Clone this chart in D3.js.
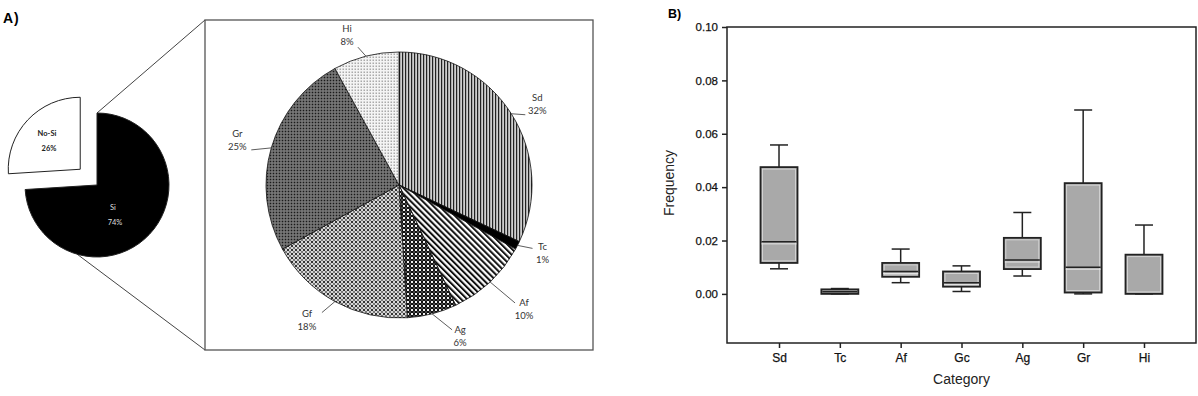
<!DOCTYPE html>
<html>
<head>
<meta charset="utf-8">
<script src="https://cdn.jsdelivr.net/npm/d3@7"></script>
<style>
  body { margin: 0; background: #fff; }
  svg { display: block; }
</style>
</head>
<body>
<script>
// Chart data
const overviewNames = ["Si", "No-Si"];
const overviewPct = [74, 26];

const pieNames = ["Sd", "Tc", "Af", "Ag", "Gf", "Gr", "Hi"];
const piePct = [32, 1, 10, 6, 18, 25, 8];

const boxCats = ["Sd", "Tc", "Af", "Gc", "Ag", "Gr", "Hi"];
const whiskerLow = [0.0094, 0.0000, 0.0042, 0.0009, 0.0067, 0.0000, 0.0000];
const q1 = [0.0116, 0.0000, 0.0064, 0.0027, 0.0093, 0.0005, 0.0000];
const median = [0.0195, 0.0008, 0.0084, 0.0042, 0.0127, 0.0100, 0.0000];
const q3 = [0.0475, 0.0017, 0.0116, 0.0084, 0.0210, 0.0415, 0.0147];
const whiskerHigh = [0.0558, 0.0020, 0.0168, 0.0105, 0.0305, 0.0689, 0.0258];
const yTicks = [0.00, 0.02, 0.04, 0.06, 0.08, 0.10];

const width = 1198;
const height = 396;

const svg = d3.select("body").append("svg")
  .attr("width", width)
  .attr("height", height);

const defs = svg.append("defs");

// Fill patterns for the pie slices
function makePattern(id, w, h, build, transform) {
  const p = defs.append("pattern")
    .attr("id", id)
    .attr("patternUnits", "userSpaceOnUse")
    .attr("width", w)
    .attr("height", h);
  if (transform) p.attr("patternTransform", transform);
  build(p);
}

makePattern("pSd", 3, 3, p => {
  p.append("rect").attr("width", 3).attr("height", 3).attr("fill", "#cfcfcf");
  p.append("rect").attr("width", 1.2).attr("height", 3).attr("fill", "#222");
});
makePattern("pAf", 4.2, 4.2, p => {
  p.append("rect").attr("width", 4.2).attr("height", 4.2).attr("fill", "#fff");
  p.append("rect").attr("width", 2).attr("height", 4.2).attr("fill", "#111");
}, "rotate(-45)");
makePattern("pAg", 4, 4, p => {
  p.append("rect").attr("width", 4).attr("height", 4).attr("fill", "#111");
  p.append("rect").attr("x", 0).attr("y", 0).attr("width", 2).attr("height", 2).attr("fill", "#eee");
  p.append("rect").attr("x", 2).attr("y", 2).attr("width", 2).attr("height", 2).attr("fill", "#444");
});
makePattern("pGf", 4, 4, p => {
  p.append("rect").attr("width", 4).attr("height", 4).attr("fill", "#d6d6d6");
  p.append("rect").attr("x", 0).attr("y", 0).attr("width", 2).attr("height", 2).attr("fill", "#333");
  p.append("rect").attr("x", 2).attr("y", 2).attr("width", 2).attr("height", 2).attr("fill", "#777");
});
makePattern("pGr", 3, 3, p => {
  p.append("rect").attr("width", 3).attr("height", 3).attr("fill", "#606060");
  p.append("rect").attr("x", 0).attr("y", 0).attr("width", 1).attr("height", 1).attr("fill", "#1a1a1a");
  p.append("rect").attr("x", 1.5).attr("y", 1.5).attr("width", 1).attr("height", 1).attr("fill", "#b0b0b0");
});
makePattern("pHi", 3, 3, p => {
  p.append("rect").attr("width", 3).attr("height", 3).attr("fill", "#f4f4f4");
  p.append("rect").attr("x", 0.5).attr("y", 0.5).attr("width", 1.5).attr("height", 1.5).attr("fill", "#aaa");
});

const sliceFill = {
  Sd: "url(#pSd)", Tc: "#000", Af: "url(#pAf)", Ag: "url(#pAg)",
  Gf: "url(#pGf)", Gr: "url(#pGr)", Hi: "url(#pHi)"
};

const labelFont = "Lato, 'Open Sans', sans-serif";

// ---------- Panel A ----------
svg.append("text")
  .attr("x", 3).attr("y", 23)
  .attr("font-family", "'Liberation Sans', Arial, sans-serif")
  .attr("font-weight", "bold")
  .attr("font-size", 14)
  .attr("letter-spacing", 1)
  .text("A)");

// small overview pie
const smallCx = 97, smallCy = 185, smallR = 72;
const smallPie = d3.pie().sort(null)(overviewPct);
const smallArc = d3.arc().innerRadius(0).outerRadius(smallR);

// big exploded box
const boxX0 = 205, boxY0 = 20, boxX1 = 593, boxY1 = 350;

// connector lines (drawn first, below pies)
const lowAngle = 196 * Math.PI / 180;
svg.append("line")
  .attr("x1", smallCx).attr("y1", smallCy - smallR)
  .attr("x2", boxX0).attr("y2", boxY0)
  .attr("stroke", "#444").attr("stroke-width", 1);
svg.append("line")
  .attr("x1", smallCx + smallR * Math.sin(lowAngle)).attr("y1", smallCy - smallR * Math.cos(lowAngle))
  .attr("x2", boxX0).attr("y2", boxY1)
  .attr("stroke", "#444").attr("stroke-width", 1);

const small = svg.append("g").attr("transform", `translate(${smallCx},${smallCy})`);
small.selectAll("path")
  .data(smallPie)
  .enter().append("path")
  .attr("d", smallArc)
  .attr("transform", (d, i) => {
    if (i === 0) return null;
    const [x, y] = smallArc.centroid(d);
    const len = Math.hypot(x, y);
    return `translate(${x / len * 23},${y / len * 23})`;
  })
  .attr("fill", (d, i) => i === 0 ? "#000" : "#fff")
  .attr("stroke", "#222")
  .attr("stroke-width", 1);

const smallLabelPos = [[16, 29], [-50, -45]];
small.selectAll("text.sl")
  .data(smallPie)
  .enter().append("text")
  .attr("class", "sl")
  .attr("text-anchor", "middle")
  .attr("font-family", labelFont)
  .attr("font-size", 7.5)
  .attr("fill", (d, i) => i === 0 ? "#ddd" : "#222")
  .attr("font-weight", (d, i) => i === 0 ? "normal" : "bold")
  .each(function(d, i) {
    const t = d3.select(this);
    const [px, py] = smallLabelPos[i];
    t.append("tspan").attr("x", px).attr("y", py - 4).text(overviewNames[i]);
    t.append("tspan").attr("x", px + 2).attr("y", py + 11).text(overviewPct[i] + "%");
  });

svg.append("rect")
  .attr("x", boxX0).attr("y", boxY0)
  .attr("width", boxX1 - boxX0).attr("height", boxY1 - boxY0)
  .attr("fill", "none")
  .attr("stroke", "#555")
  .attr("stroke-width", 1.3);

// main pie
const bigCx = 399, bigCy = 185, bigR = 133;
const bigPie = d3.pie().sort(null)(piePct);
const bigArc = d3.arc().innerRadius(0).outerRadius(bigR);

const big = svg.append("g").attr("transform", `translate(${bigCx},${bigCy})`);
big.selectAll("path")
  .data(bigPie)
  .enter().append("path")
  .attr("d", bigArc)
  .attr("fill", (d, i) => sliceFill[pieNames[i]])
  .attr("stroke", "#111")
  .attr("stroke-width", 0.8);

// label offsets relative to the slice edge (text block centre, leader end)
const labelOffset = {
  Sd: [[26, -10], [14, 1]],
  Tc: [[25, 8], [15, 3]],
  Af: [[34, 27], [25, 21]],
  Ag: [[28, 22], [20, 16]],
  Gf: [[-28, 18], [-13, 11]],
  Gr: [[-34, -8], [-20, 2]],
  Hi: [[-19, -21], [-8, -9]]
};

bigPie.forEach((d, i) => {
  const name = pieNames[i];
  const mid = (d.startAngle + d.endAngle) / 2;
  const ex = bigR * Math.sin(mid), ey = -bigR * Math.cos(mid);
  const [lab, lead] = labelOffset[name];
  big.append("line")
    .attr("x1", ex).attr("y1", ey)
    .attr("x2", ex + lead[0]).attr("y2", ey + lead[1])
    .attr("stroke", "#333").attr("stroke-width", 0.8);
  const t = big.append("text")
    .attr("text-anchor", "middle")
    .attr("font-family", labelFont)
    .attr("font-size", 9.5)
    .attr("fill", "#333");
  t.append("tspan").attr("x", ex + lab[0]).attr("y", ey + lab[1] - 3).text(name);
  t.append("tspan").attr("x", ex + lab[0]).attr("y", ey + lab[1] + 10).text(piePct[i] + "%");
});

// ---------- Panel B ----------
const plotX0 = 727, plotX1 = 1196, plotY0 = 27, plotY1 = 343;
const axisFont = "'Liberation Sans', Arial, sans-serif";

svg.append("text")
  .attr("x", 668).attr("y", 18)
  .attr("font-family", axisFont)
  .attr("font-weight", "bold")
  .attr("font-size", 12.5)
  .text("B)");

const y = d3.scaleLinear().domain([-0.0184, 0.10]).range([plotY1, plotY0]);
const x = d3.scalePoint().domain(boxCats).range([plotX0, plotX1]).padding(0.855);

const yAxis = svg.append("g")
  .attr("transform", `translate(${plotX0},0)`)
  .call(d3.axisLeft(y).tickValues(yTicks).tickFormat(d3.format(".2f")).tickSize(5).tickPadding(4));
const xAxis = svg.append("g")
  .attr("transform", `translate(0,${plotY1})`)
  .call(d3.axisBottom(x).tickSize(5).tickPadding(5));

[yAxis, xAxis].forEach(a => {
  a.select(".domain").remove();
  a.selectAll("line").attr("stroke", "#222").attr("stroke-width", 1.5);
  a.selectAll("text")
    .attr("font-family", axisFont)
    .attr("font-size", 11.5)
    .attr("fill", "#111")
    .attr("stroke", "#111")
    .attr("stroke-width", 0.25);
});
xAxis.selectAll("text").attr("font-size", 12);

svg.append("rect")
  .attr("x", plotX0).attr("y", plotY0)
  .attr("width", plotX1 - plotX0).attr("height", plotY1 - plotY0)
  .attr("fill", "none")
  .attr("stroke", "#222")
  .attr("stroke-width", 1.5);

svg.append("text")
  .attr("transform", `translate(674,${(plotY0 + plotY1) / 2 - 2}) rotate(-90)`)
  .attr("text-anchor", "middle")
  .attr("font-family", axisFont)
  .attr("font-size", 14)
  .attr("fill", "#222")
  .text("Frequency");

svg.append("text")
  .attr("x", (plotX0 + plotX1) / 2)
  .attr("y", 384)
  .attr("text-anchor", "middle")
  .attr("font-family", axisFont)
  .attr("font-size", 14)
  .attr("fill", "#222")
  .text("Category");

const boxW = 37, capW = 18;
const boxes = svg.append("g").selectAll("g")
  .data(boxCats.map((c, i) => ({
    cat: c, lo: whiskerLow[i], q1: q1[i], med: median[i], q3: q3[i], hi: whiskerHigh[i]
  })))
  .enter().append("g")
  .attr("transform", d => `translate(${x(d.cat)},0)`);

boxes.append("line")
  .attr("y1", d => y(d.hi)).attr("y2", d => y(d.q3))
  .attr("stroke", "#222").attr("stroke-width", 1.5);
boxes.append("line")
  .attr("y1", d => y(d.q1)).attr("y2", d => y(d.lo))
  .attr("stroke", "#222").attr("stroke-width", 1.5);
boxes.append("line")
  .attr("x1", -capW / 2).attr("x2", capW / 2)
  .attr("y1", d => y(d.hi)).attr("y2", d => y(d.hi))
  .attr("stroke", "#222").attr("stroke-width", 1.5);
boxes.append("line")
  .attr("x1", -capW / 2).attr("x2", capW / 2)
  .attr("y1", d => y(d.lo)).attr("y2", d => y(d.lo))
  .attr("stroke", "#222").attr("stroke-width", 1.5);

boxes.append("rect")
  .attr("x", -boxW / 2).attr("width", boxW)
  .attr("y", d => y(d.q3)).attr("height", d => y(d.q1) - y(d.q3))
  .attr("fill", "#a9a9a9")
  .attr("stroke", "#222").attr("stroke-width", 1.8);
boxes.filter(d => y(d.q1) - y(d.q3) > 6).append("rect")
  .attr("x", -boxW / 2 + 2).attr("width", boxW - 4)
  .attr("y", d => y(d.q3) + 2).attr("height", d => y(d.q1) - y(d.q3) - 4)
  .attr("fill", "none")
  .attr("stroke", "#dcdcdc").attr("stroke-width", 0.8);
boxes.filter(d => d.med > d.q1).append("line")
  .attr("x1", -boxW / 2 + 1).attr("x2", boxW / 2 - 1)
  .attr("y1", d => y(d.med)).attr("y2", d => y(d.med))
  .attr("stroke", "#222").attr("stroke-width", 1.5);
boxes.filter(d => d.med > d.q1 && y(d.q1) - y(d.med) > 4).append("line")
  .attr("x1", -boxW / 2 + 1).attr("x2", boxW / 2 - 1)
  .attr("y1", d => y(d.med) + 2).attr("y2", d => y(d.med) + 2)
  .attr("stroke", "#e6e6e6").attr("stroke-width", 1);
</script>
</body>
</html>
